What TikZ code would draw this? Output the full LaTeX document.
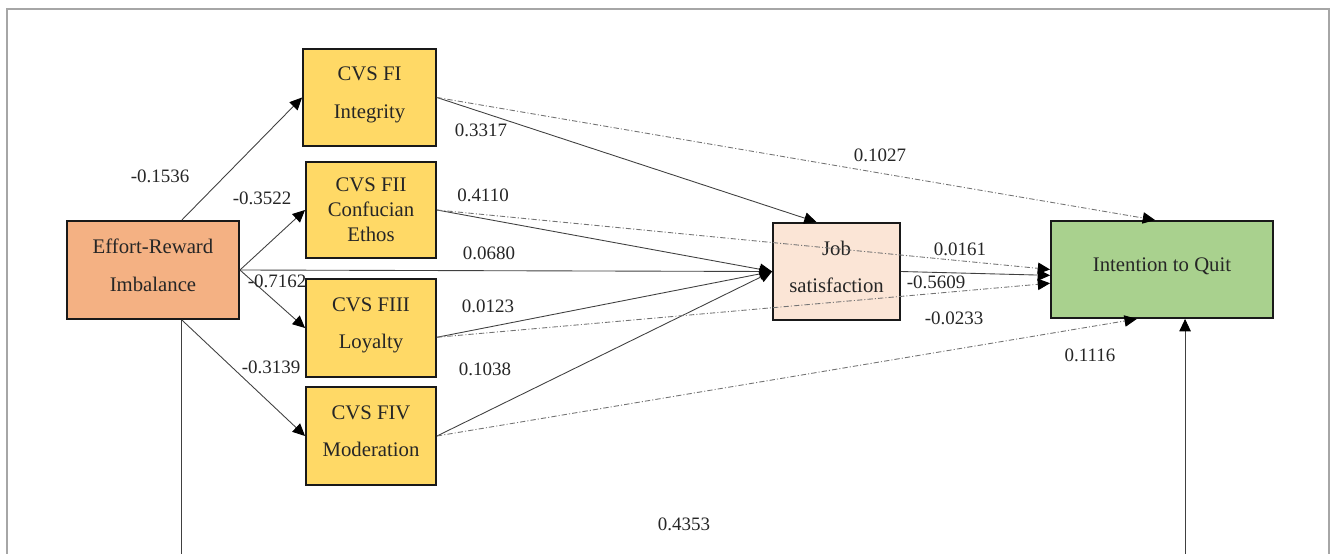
\documentclass[tikz,border=0pt]{standalone}
\usepackage{fontspec}
\setmainfont{Liberation Serif}
\usetikzlibrary{arrows.meta}
\definecolor{eriorange}{HTML}{F4B183}
\definecolor{cvsyellow}{HTML}{FFD966}
\definecolor{jspeach}{HTML}{FBE5D6}
\definecolor{iqgreen}{HTML}{A9D18E}
\begin{document}
\begin{tikzpicture}
[x=.02cm, y=-.02cm,
 box/.style={draw=black!90, line width=1.1pt, align=center, inner sep=0pt,
   font=\fontsize{11.8}{14.2}\selectfont, text=black!85},
 lifted/.style={execute at end node={\rule[-5.4pt]{0pt}{0pt}}},
 cvs/.style={box, fill=cvsyellow, minimum width=2.6cm, minimum height=1.94cm},
 coef/.style={font=\fontsize{10.8}{13}\selectfont, text=black!85, inner sep=0pt},
 direct/.style={->, black!75, line width=.5pt},
 indirect/.style={direct, black!55, dash pattern=on 3pt off 1.2pt on .6pt off 1.2pt},
 >={Triangle[length=7pt,width=6.5pt,color=black]}]
\useasboundingbox (0,0) rectangle (1331,554);
\draw [black!35, line width=.6pt] (7,9) rectangle (1329,640);

\node (ERI) at (153,270) [box, lifted, fill=eriorange, minimum width=3.44cm, minimum height=1.96cm] {Effort-Reward\\[7pt]Imbalance};
\node (FI) at (369.5,97.5) [cvs, lifted, minimum width=2.66cm] {CVS FI\\[7pt]Integrity};
\node (FII) at (371,210) [cvs, minimum height=1.92cm] {CVS FII\\Confucian\\Ethos};
\node (FIII) at (371,328) [cvs, lifted, minimum height=1.96cm] {CVS FIII\\[7pt]Loyalty};
\node (FIV) at (371,436) [cvs, lifted, minimum height=1.96cm] {CVS FIV\\[7pt]Moderation};
\node (JS) at (836.5,271.5) [box, lifted, fill=jspeach, minimum width=2.54cm, minimum height=1.94cm] {Job\\[7pt]satisfaction};
\node (IQ) at (1162,269.5) [box, lifted, fill=iqgreen, minimum width=4.44cm, minimum height=1.94cm] {Intention to Quit};
\coordinate (low) at (684,600);

% effort-reward imbalance to the values
\draw [direct] (ERI.60) -- (FI.west);
\draw [direct] (ERI.east) -- (FII.west);
\draw [direct] (ERI.east) -- (FIII.west);
\draw [direct] (ERI.-60) -- (FIV.west);
\draw [direct] (ERI.east) -- (JS.west);
\draw [direct] (ERI.-60) |- (low) -| (IQ.-65);

% values to job satisfaction
\draw [direct] (FI.east) -- (JS.112);
\draw [direct] (FII.east) -- (JS.west);
\draw [direct] (FIII.-8) -- (JS.west);
\draw [direct] (FIV.east) -- (JS.west);
\draw [direct] (JS.east) -- (IQ.183);

% values to intention to quit
\draw [indirect] (FI.east) -- (IQ.98);
\draw [indirect] (FII.east) -- (IQ.180);
\draw [indirect] (FIII.-8) -- (IQ.187);
\draw [indirect] (FIV.east) -- (IQ.-117);

\node (cERIFI) at (160,176) [coef] {-0.1536};
\node (cERIFII) at (262,198) [coef] {-0.3522};
\node (cERIFIII) at (277,281) [coef] {-0.7162};
\node (cERIFIV) at (271,367) [coef] {-0.3139};
\node (cERIJS) at (489,253) [coef] {0.0680};
\node (cERIIQ) at (684,524) [coef] {0.4353};
\node (cFIJS) at (481,130) [coef] {0.3317};
\node (cFIIJS) at (483,195) [coef] {0.4110};
\node (cFIIIJS) at (488,306) [coef] {0.0123};
\node (cFIVJS) at (485,369) [coef] {0.1038};
\node (cFIIQ) at (880,155) [coef] {0.1027};
\node (cFIIIQ) at (960,249) [coef] {0.0161};
\node (cJSIQ) at (936,282) [coef] {-0.5609};
\node (cFIIIIQ) at (954,318) [coef] {-0.0233};
\node (cFIVIQ) at (1090,355) [coef] {0.1116};
\end{tikzpicture}
\end{document}
